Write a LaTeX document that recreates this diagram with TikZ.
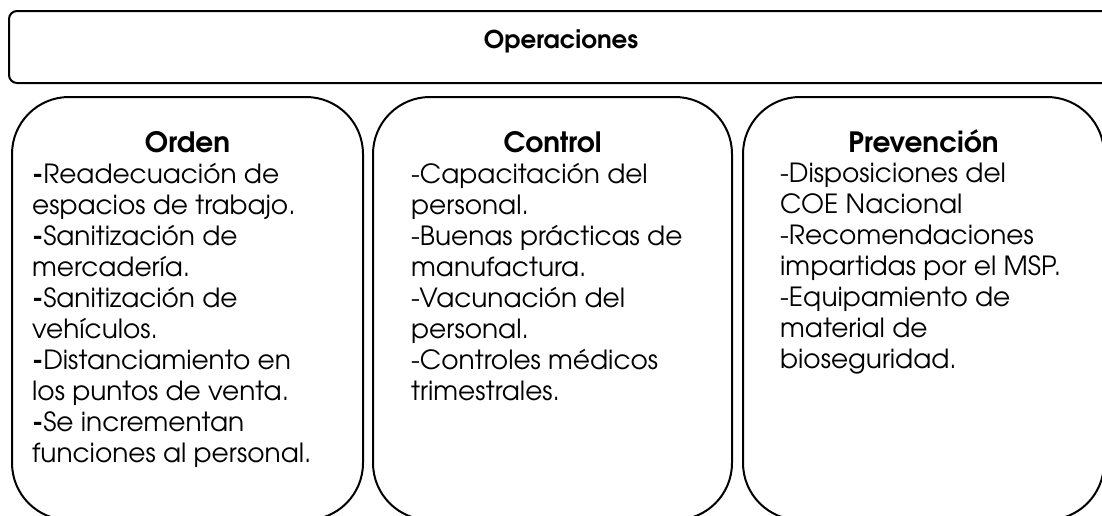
\documentclass[tikz,border=0pt]{standalone}
\usepackage{fontspec}
\setmainfont{TeX Gyre Adventor}
\usetikzlibrary{positioning}

\tikzset{
  header/.style={draw, line width=2pt, rounded corners=8pt, minimum width=1110pt, minimum height=72pt, inner sep=0pt},
  headtitle/.style={anchor=base, inner sep=0pt, font=\bfseries\fontsize{24.5}{28}\selectfont},
  panel/.style={draw, line width=2pt, rounded corners=57pt, minimum width=#1, minimum height=423pt, inner sep=0pt},
  paneltitle/.style={anchor=base, inner sep=0pt, font=\bfseries\fontsize{28}{32}\selectfont},
  paneltext/.style={anchor=north west, inner sep=0pt, align=left, font=\fontsize{26.4}{31}\selectfont}
}

\begin{document}
\begin{tikzpicture}[x=1pt, y=-1pt]
    \useasboundingbox (0,0) rectangle (1102,515);
    \clip (0,0) rectangle (1102,515);

    % Top box
    \node[header] (ops) at (564,47) {};
    \node[headtitle] (opstitle) at (561,48) {Operaciones};

    % Panels
    \node[panel=351pt] (orden) at (187.5,308.5) {};
    \node[panel=359pt, right=8pt of orden] (control) {};
    \node[panel=361pt, right=9pt of control] (prev) {};

    % Titles
    \node[paneltitle] (ordentitle) at ([yshift=-56pt]orden.north) {Orden};
    \node[paneltitle] (controltitle) at ([yshift=-56pt]control.north) {Control};
    \node[paneltitle] (prevtitle) at ([yshift=-56pt]prev.north) {Prevención};

    % Panel texts
    \node[paneltext] (ordentext) at ([xshift=21pt, yshift=-67pt]orden.north west)
      {\textbf{-}Readecuación de\\ espacios de trabajo.\\ \textbf{-}Sanitización de\\ mercadería.\\
       \textbf{-}Sanitización de\\ vehículos.\\ \textbf{-}Distanciamiento en\\ los puntos de venta.\\
       \textbf{-}Se incrementan\\ funciones al personal.};
    \node[paneltext] (controltext) at ([xshift=39pt, yshift=-67pt]control.north west)
      {-Capacitación del\\ personal.\\ -Buenas prácticas de\\ manufactura.\\
       -Vacunación del\\ personal.\\ -Controles médicos\\ trimestrales.};
    \node[paneltext] (prevtext) at ([xshift=38pt, yshift=-67pt]prev.north west)
      {-Disposiciones del\\ COE Nacional\\ -Recomendaciones\\ impartidas por el MSP.\\
       -Equipamiento de\\ material de\\ bioseguridad.};
\end{tikzpicture}
\end{document}
